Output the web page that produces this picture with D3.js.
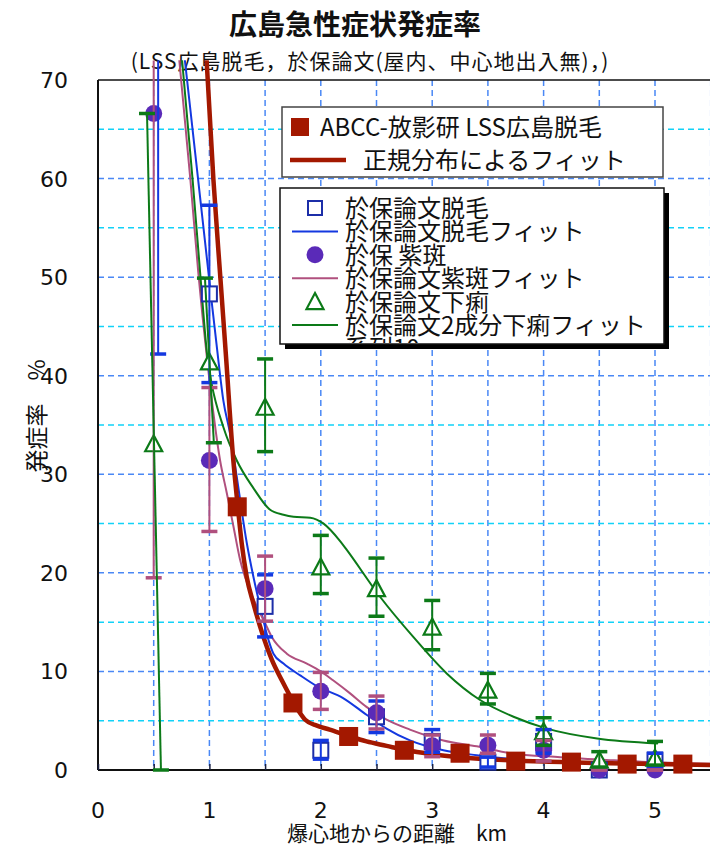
<!DOCTYPE html>
<html><head><meta charset="utf-8">
<script src="https://cdn.jsdelivr.net/npm/d3@7"></script>
<style>body{margin:0;background:#fff}svg{display:block}</style>
</head><body>
<svg id="chart" width="710" height="848"></svg>
<script>
// ---- ABCC-RERF LSS Hiroshima epilation (points) and its normal-distribution fit
const lssX = [1.25, 1.75, 2.25, 2.75, 3.25, 3.75, 4.25, 4.75, 5.25];
const lssY = [26.7, 6.8, 3.4, 2.0, 1.7, 0.9, 0.8, 0.6, 0.6];
const lssFitX = [0.975, 1.036, 1.1, 1.15, 1.215, 1.255, 1.29, 1.335, 1.395, 1.485, 1.56, 1.65, 1.71, 1.755, 1.8, 1.86, 1.965, 2.08, 2.25, 2.41, 2.59, 2.75, 3.0, 3.25, 3.5, 4.0, 4.6, 5.0, 5.6];
const lssFitY = [72, 59.9, 49.7, 41.8, 31.4, 26.7, 23.0, 19.6, 16.9, 13.5, 11.2, 9.1, 7.8, 6.8, 6.0, 5.1, 4.5, 4.1, 3.45, 2.9, 2.45, 2.05, 1.6, 1.3, 1.1, 0.85, 0.68, 0.6, 0.5];

// ---- Oho paper: epilation (null = above the plotted range)
const epiX  = [0.54, 1.0, 1.5, 2.0, 2.5, 3.0, 3.5, 4.0, 4.5, 5.0];
const epiY  = [null, 48.3, 16.6, 2.0, 5.4, 2.9, 0.8, 2.9, 0.0, 1.0];
const epiLo = [42.2, 39.3, 13.5, 1.1, 3.8, 1.8, 0.3, 1.7, 0.0, 0.4];
const epiHi = [null, 57.3, 19.8, 3.0, 7.0, 4.1, 1.3, 4.1, 0.0, 1.7];
const epiFitX = [0.78, 1.0, 1.08, 1.125, 1.186, 1.246, 1.336, 1.395, 1.455, 1.53, 1.575, 1.665, 1.815, 1.965, 2.2, 2.41, 2.59, 2.8, 3.1, 3.4, 3.64, 4.03, 4.5, 5.0, 5.6];
const epiFitY = [72, 49.6, 41.6, 37.5, 34.1, 29.7, 23.0, 19.6, 16.6, 13.2, 11.8, 10.8, 9.6, 8.5, 7.3, 5.6, 4.2, 3.0, 2.0, 1.5, 1.2, 0.84, 0.7, 0.6, 0.5];

// ---- Oho paper: purpura
const purX  = [0.5, 1.0, 1.5, 2.0, 2.5, 3.0, 3.5, 4.0, 4.5, 5.0];
const purY  = [66.6, 31.4, 18.4, 8.0, 5.8, 2.45, 2.5, 2.0, 0.0, 0.0];
const purLo = [19.5, 24.2, 15.1, 6.15, 4.16, 1.35, 1.7, 0.9, 0.0, 0.0];
const purHi = [null, 38.8, 21.7, 9.9, 7.5, 3.55, 3.55, 3.0, 0.0, 0.0];
const purFitX = [0.73, 0.83, 0.9, 0.98, 1.096, 1.156, 1.216, 1.276, 1.35, 1.425, 1.5, 1.56, 1.695, 1.875, 2.0, 2.11, 2.26, 2.41, 2.59, 2.8, 3.1, 3.4, 3.7, 4.15, 4.6, 5.05, 5.6];
const purFitY = [72, 59.8, 50.5, 41.6, 31.4, 28.1, 24.7, 21.3, 18.6, 16.6, 14.9, 13.5, 11.8, 10.8, 10.0, 9.1, 7.8, 6.4, 5.1, 4.1, 3.0, 2.4, 1.7, 1.3, 1.0, 0.75, 0.6];

// ---- Oho paper: diarrhoea, with the two-component fit
const diaX   = [0.5, 1.0, 1.5, 2.0, 2.5, 3.0, 3.5, 4.0, 4.5, 5.0];
const diaY   = [33.1, 41.4, 36.8, 20.6, 18.4, 14.5, 8.1, 3.9, 1.0, 1.2];
const diaLo  = [0.0, 33.2, 32.3, 17.9, 15.6, 12.2, 6.7, 2.5, 0.3, 0.5];
const diaHi  = [66.6, 49.9, 41.7, 23.8, 21.5, 17.2, 9.8, 5.3, 1.86, 2.9];
const diaLoX = [0.565, 1.04, 1.5, 2.0, 2.5, 3.0, 3.5, 4.0, 4.5, 5.0];
const diaHiX = [0.44, 0.96, 1.5, 2.0, 2.5, 3.0, 3.5, 4.0, 4.5, 5.0];
const diaFitX = [0.755, 0.85, 0.92, 0.985, 1.02, 1.125, 1.246, 1.395, 1.545, 1.665, 1.755, 1.905, 2.025, 2.175, 2.235, 2.53, 2.83, 3.13, 3.43, 3.73, 4.03, 4.48, 5.02];
const diaFitY = [72, 59.8, 50, 41.6, 39.2, 34.8, 31.4, 28.6, 26.4, 25.9, 25.7, 25.6, 25.0, 23.2, 22.3, 17.6, 13.5, 9.8, 7.1, 5.4, 4.2, 3.2, 2.7];

// ---- axes
const xTicks = [0, 1, 2, 3, 4, 5];
const yTicks = [0, 10, 20, 30, 40, 50, 60, 70];
const xGrid = [0.5, 1, 1.5, 2, 2.5, 3, 3.5, 4, 4.5, 5, 5.5];
const yGrid = [5, 10, 15, 20, 25, 30, 35, 40, 45, 50, 55, 60, 65];

const titleText = "広島急性症状発症率";
const subtitleText = "(LSS広島脱毛，於保論文(屋内、中心地出入無)，)";
const xTitle = "爆心地からの距離　km";
const yTitle = "発症率　%";
const legendA = ["ABCC-放影研 LSS広島脱毛", "正規分布によるフィット"];
const legendB = ["於保論文脱毛", "於保論文脱毛フィット", "於保 紫斑", "於保論文紫斑フィット", "於保論文下痢", "於保論文2成分下痢フィット", "系列10"];

const C = {
  red: "#a31800", blue: "#1438e0", blueEdge: "#1c2ea8", purple: "#5a2ab8",
  pink: "#b0507e", green: "#0c7a18", gridA: "#4a88f5", gridB: "#12d2f8"
};
const JP = "'Noto Sans CJK JP', 'Noto Sans', sans-serif";
const NUM = "'DejaVu Sans', sans-serif";

const svg = d3.select("#chart");
const L = 98, R = 710, T = 80, B = 770;
const x = d3.scaleLinear().domain([0, 5]).range([L, 655]);
const y = d3.scaleLinear().domain([0, 70]).range([B, T]);
const yTop = 72; // value where off-range lines stop

svg.append("rect").attr("width", 710).attr("height", 848).attr("fill", "#fff");

// grid
const grid = svg.append("g");
grid.selectAll("line.v").data(xGrid).join("line")
  .attr("x1", d => x(d)).attr("x2", d => x(d)).attr("y1", T).attr("y2", B)
  .attr("stroke", C.gridA).attr("stroke-width", 1.5).attr("stroke-dasharray", "6,4");
grid.selectAll("line.h").data(yGrid).join("line")
  .attr("x1", L).attr("x2", R).attr("y1", d => y(d)).attr("y2", d => y(d))
  .attr("stroke", d => d % 10 === 0 ? C.gridA : C.gridB)
  .attr("stroke-width", 1.5).attr("stroke-dasharray", "6,4");

// frame and axes
svg.append("line").attr("x1", L).attr("x2", R).attr("y1", T).attr("y2", T).attr("stroke", "#111").attr("stroke-width", 1.5);
svg.append("line").attr("x1", L).attr("x2", L).attr("y1", T).attr("y2", B).attr("stroke", "#111").attr("stroke-width", 2);

const xAxis = d3.axisBottom(x).tickValues(xGrid.concat([0])).tickSize(-6).tickFormat("");
svg.append("g").attr("transform", `translate(0,${B})`).call(xAxis)
  .call(g => g.select(".domain").attr("d", `M${L},0H${R}`).attr("stroke", "#111").attr("stroke-width", 2))
  .call(g => g.selectAll(".tick line").attr("stroke", "#1a2040").attr("stroke-width", 1.5));

svg.append("g").selectAll("text").data(xTicks).join("text")
  .attr("x", d => x(d)).attr("y", 818).attr("text-anchor", "middle")
  .attr("font-family", NUM).attr("font-size", 22).attr("fill", "#111").text(d => d);
svg.append("g").selectAll("text").data(yTicks).join("text")
  .attr("x", 68).attr("y", d => y(d) + 8).attr("text-anchor", "end")
  .attr("font-family", NUM).attr("font-size", 22).attr("fill", "#111").text(d => d);

// titles
svg.append("text").attr("x", 355).attr("y", 35).attr("text-anchor", "middle")
  .attr("font-family", JP).attr("font-weight", "bold").attr("font-size", 28).attr("fill", "#111").text(titleText);
svg.append("text").attr("x", 370).attr("y", 69).attr("text-anchor", "middle")
  .attr("font-family", JP).attr("font-size", 21).attr("letter-spacing", 1).attr("fill", "#111").text(subtitleText);
svg.append("text").attr("x", 397).attr("y", 841).attr("text-anchor", "middle")
  .attr("font-family", JP).attr("font-size", 21).attr("fill", "#111").text(xTitle);
svg.append("text").attr("transform", "translate(45,416) rotate(-90)").attr("text-anchor", "middle")
  .attr("font-family", JP).attr("font-size", 23).attr("fill", "#111").text(yTitle);

// plotted series
svg.append("clipPath").attr("id", "plotClip").append("rect")
  .attr("x", L).attr("y", y(yTop)).attr("width", R - L).attr("height", 848 - y(yTop));
const plot = svg.append("g").attr("clip-path", "url(#plotClip)");

const lineGen = d3.line().x(d => x(d[0])).y(d => y(d[1])).curve(d3.curveMonotoneX);
function fitLine(xs, ys, color, w) {
  plot.append("path").datum(d3.zip(xs, ys)).attr("d", lineGen)
    .attr("fill", "none").attr("stroke", color).attr("stroke-width", w)
    .attr("stroke-linejoin", "round").attr("stroke-linecap", "round");
}
fitLine(epiFitX, epiFitY, C.blue, 2);
fitLine(purFitX, purFitY, C.pink, 2);
fitLine(diaFitX, diaFitY, C.green, 2);
fitLine(lssFitX, lssFitY, C.red, 4.5);

function errorBars(xs, lo, hi, loX, hiX, color) {
  const g = plot.append("g");
  const rows = xs.map((d, i) => ({
    x1: x(hiX ? hiX[i] : d), y1: y(hi[i] == null ? yTop : hi[i]),
    x2: x(loX ? loX[i] : d), y2: y(lo[i]), capTop: hi[i] != null
  }));
  g.selectAll("line.stem").data(rows).join("line")
    .attr("x1", d => d.x1).attr("y1", d => d.y1).attr("x2", d => d.x2).attr("y2", d => d.y2)
    .attr("stroke", color).attr("stroke-width", 2);
  const caps = rows.flatMap(d => (d.capTop ? [[d.x1, d.y1]] : []).concat([[d.x2, d.y2]]));
  g.selectAll("line.cap").data(caps).join("line")
    .attr("x1", d => d[0] - 8).attr("x2", d => d[0] + 8).attr("y1", d => d[1]).attr("y2", d => d[1])
    .attr("stroke", color).attr("stroke-width", 3.5);
}

// markers
function pts(xs, ys) { return d3.zip(xs, ys).filter(d => d[1] != null); }
function triPath(cx, cy) { return `M${cx},${cy - 8.5}L${cx + 8.5},${cy + 7.5}L${cx - 8.5},${cy + 7.5}Z`; }

plot.append("g").selectAll("rect").data(pts(epiX, epiY)).join("rect")
  .attr("x", d => x(d[0]) - 7.5).attr("y", d => y(d[1]) - 7.5).attr("width", 15).attr("height", 15)
  .attr("fill", "#fff").attr("stroke", C.blueEdge).attr("stroke-width", 2);
plot.append("g").selectAll("circle").data(pts(purX, purY)).join("circle")
  .attr("cx", d => x(d[0])).attr("cy", d => y(d[1])).attr("r", 8.5).attr("fill", C.purple);
plot.append("g").selectAll("path").data(pts(diaX, diaY)).join("path")
  .attr("d", d => triPath(x(d[0]), y(d[1])))
  .attr("fill", "#fff").attr("stroke", C.green).attr("stroke-width", 2.2).attr("stroke-linejoin", "miter");

errorBars(epiX, epiLo, epiHi, null, null, C.blue);
errorBars(purX, purLo, purHi, null, null, C.pink);
errorBars(diaX, diaLo, diaHi, diaLoX, diaHiX, C.green);

plot.append("g").selectAll("rect").data(pts(lssX, lssY)).join("rect")
  .attr("x", d => x(d[0]) - 9.5).attr("y", d => y(d[1]) - 9.5).attr("width", 19).attr("height", 19)
  .attr("fill", C.red);

// legend A
const la = svg.append("g");
la.append("rect").attr("x", 282).attr("y", 107).attr("width", 381).attr("height", 70)
  .attr("fill", "#fff").attr("stroke", "#444").attr("stroke-width", 1.5);
la.append("rect").attr("x", 291).attr("y", 118).attr("width", 18).attr("height", 18).attr("fill", C.red);
la.append("line").attr("x1", 290).attr("x2", 346).attr("y1", 160).attr("y2", 160).attr("stroke", C.red).attr("stroke-width", 4.5);
la.append("text").attr("x", 320).attr("y", 136).attr("font-family", JP).attr("font-size", 24).attr("fill", "#111").text(legendA[0]);
la.append("text").attr("x", 363).attr("y", 169).attr("font-family", JP).attr("font-size", 24).attr("fill", "#111").text(legendA[1]);

// legend B
const lb = svg.append("g");
lb.append("rect").attr("x", 285).attr("y", 193).attr("width", 384).attr("height", 156).attr("fill", "#000");
lb.append("rect").attr("x", 280).attr("y", 188).attr("width", 384).attr("height", 156)
  .attr("fill", "#fff").attr("stroke", "#111").attr("stroke-width", 1.5);
svg.append("clipPath").attr("id", "legClip").append("rect").attr("x", 281).attr("y", 189).attr("width", 382).attr("height", 154);
const lbi = lb.append("g").attr("clip-path", "url(#legClip)");
const rowY = legendB.map((d, i) => 208 + i * 23.4);
lbi.selectAll("text").data(legendB).join("text")
  .attr("x", 345).attr("y", (d, i) => rowY[i] + 9).attr("font-family", JP).attr("font-size", 24).attr("fill", "#111").text(d => d);
lbi.append("rect").attr("x", 308).attr("y", rowY[0] - 7).attr("width", 14).attr("height", 14)
  .attr("fill", "#fff").attr("stroke", C.blueEdge).attr("stroke-width", 2);
lbi.append("line").attr("x1", 292).attr("x2", 338).attr("y1", rowY[1]).attr("y2", rowY[1]).attr("stroke", C.blue).attr("stroke-width", 2);
lbi.append("circle").attr("cx", 315).attr("cy", rowY[2]).attr("r", 8.5).attr("fill", C.purple);
lbi.append("line").attr("x1", 292).attr("x2", 338).attr("y1", rowY[3]).attr("y2", rowY[3]).attr("stroke", C.pink).attr("stroke-width", 2);
lbi.append("path").attr("d", triPath(315, rowY[4])).attr("fill", "#fff").attr("stroke", C.green).attr("stroke-width", 2.2);
lbi.append("line").attr("x1", 292).attr("x2", 338).attr("y1", rowY[5]).attr("y2", rowY[5]).attr("stroke", C.green).attr("stroke-width", 2);
</script>
</body></html>
